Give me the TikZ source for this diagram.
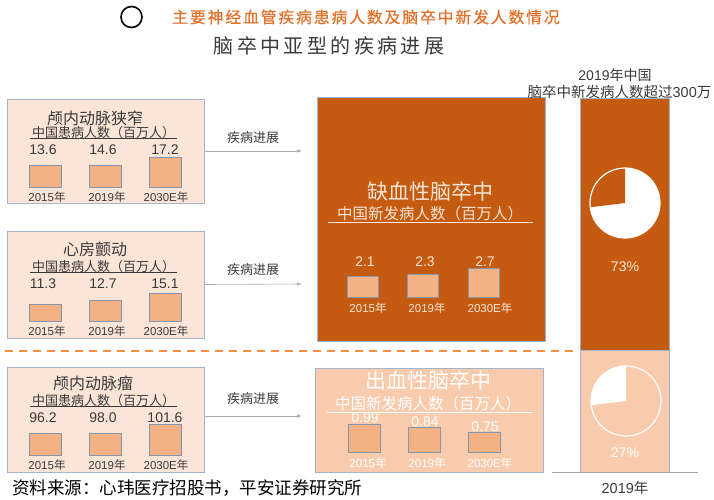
\documentclass[tikz,border=0pt]{standalone}
\usepackage{fontspec}
\setmainfont{Noto Sans CJK SC}
\newfontfamily\numfont{Liberation Sans}
\newfontfamily\headfont[FakeBold=0.6, LetterSpace=12]{Noto Sans CJK SC}
\usetikzlibrary{arrows.meta}
\definecolor{ischorange}{HTML}{C55A11}
\definecolor{hempeach}{HTML}{F8CBAD}
\definecolor{boxpeach}{HTML}{FBE5D6}
\definecolor{barfill}{HTML}{F4B183}
\definecolor{bargray}{HTML}{8497B0}
\definecolor{boxline}{HTML}{A3B4CF}
\definecolor{titleorange}{HTML}{E2712C}
\definecolor{dashorange}{HTML}{F4913F}
\definecolor{txtgray}{HTML}{3A3A3A}
\begin{document}
\begin{tikzpicture}[x=1pt, y=-1pt,
  every node/.style={text=txtgray, inner sep=0pt},
  dbox/.style={draw=boxline, fill=boxpeach, line width=0.7pt, minimum width=197pt},
  bar/.style={draw=bargray, fill=barfill, line width=0.7pt, minimum width=32pt, anchor=south},
  boxtitle/.style={font=\fontsize{16}{16}\selectfont},
  subtitle/.style={font=\fontsize{13}{13}\selectfont},
  val/.style={font=\numfont\fontsize{14}{14}\selectfont},
  yr/.style={font=\fontsize{11.5}{11.5}\selectfont},
  uline/.style={line width=0.6pt, txtgray},
  progress/.style={draw=gray!65, line width=0.6pt, -{Latex[length=5pt,width=3.5pt]}}]
\useasboundingbox (0,0) rectangle (714,499);
% heading
\node[draw=black, line width=1.6pt, circle, minimum size=21pt] (mark) at (131.5,17) {};
\node[text=titleorange, font=\headfont\fontsize{15.8}{15.8}\selectfont] (head) at (366,17) {主要神经血管疾病患病人数及脑卒中新发人数情况};
\node[font=\fontsize{20}{20}\selectfont\addfontfeature{LetterSpace=17}] (sub) at (329,46) {脑卒中亚型的疾病进展};
% left boxes
\node[dbox, minimum height=104pt] (lbox1) at (105.5,151) {};
\node[boxtitle] (lt1) at (95,118) {颅内动脉狭窄};
\node[subtitle] (ls1) at (103.5,133) {中国患病人数（百万人）};
\draw[uline] (30,138) -- (177,138);
\node[val] (lv11) at (43,150) {13.6};
\node[val] (lv12) at (103,150) {14.6};
\node[val] (lv13) at (165,150) {17.2};
\node[bar, minimum height=22pt] (lb11) at (45,188) {};
\node[bar, minimum height=22pt] (lb12) at (105,188) {};
\node[bar, minimum height=30pt] (lb13) at (165,188) {};
\node[yr] (ly11) at (47,197) {{\numfont 2015}年};
\node[yr] (ly12) at (107,197) {{\numfont 2019}年};
\node[yr] (ly13) at (166,197) {{\numfont 2030E}年};

\node[dbox, minimum height=107pt] (lbox2) at (105.5,284.5) {};
\node[boxtitle] (lt2) at (95,249) {心房颤动};
\node[subtitle] (ls2) at (103.5,267) {中国患病人数（百万人）};
\draw[uline] (30,272) -- (177,272);
\node[val] (lv21) at (43,284) {11.3};
\node[val] (lv22) at (103,284) {12.7};
\node[val] (lv23) at (165,284) {15.1};
\node[bar, minimum height=17pt] (lb21) at (45,322) {};
\node[bar, minimum height=21pt] (lb22) at (105,322) {};
\node[bar, minimum height=28pt] (lb23) at (165,322) {};
\node[yr] (ly21) at (47,331) {{\numfont 2015}年};
\node[yr] (ly22) at (107,331) {{\numfont 2019}年};
\node[yr] (ly23) at (166,331) {{\numfont 2030E}年};

\node[dbox, minimum height=105pt] (lbox3) at (105.5,419.5) {};
\node[boxtitle] (lt3) at (93,383) {颅内动脉瘤};
\node[subtitle] (ls3) at (103.5,401) {中国患病人数（百万人）};
\draw[uline] (30,406) -- (177,406);
\node[val] (lv31) at (43,418) {96.2};
\node[val] (lv32) at (103,418) {98.0};
\node[val] (lv33) at (165,418) {101.6};
\node[bar, minimum height=22pt] (lb31) at (45,456) {};
\node[bar, minimum height=22pt] (lb32) at (105,456) {};
\node[bar, minimum height=31pt] (lb33) at (165,456) {};
\node[yr] (ly31) at (47,465) {{\numfont 2015}年};
\node[yr] (ly32) at (107,465) {{\numfont 2019}年};
\node[yr] (ly33) at (166,465) {{\numfont 2030E}年};
% progression arrows
\coordinate (a1) at (302,151);
\coordinate (a2) at (302,284);
\coordinate (a3) at (302,416);
\draw[progress] (lbox1.east) -- (a1);
\draw[progress] (lbox2.east) -- (a2);
\draw[progress] (lbox3.east |- a3) -- (a3);
\node[subtitle] (p1) at (253,138) {疾病进展};
\node[subtitle] (p2) at (253,270) {疾病进展};
\node[subtitle] (p3) at (253,399) {疾病进展};
% ischaemic stroke
\node[draw=boxline, fill=ischorange, line width=0.7pt, minimum width=228pt, minimum height=244pt] (isch) at (431,219) {};
\node[text=boxpeach, font=\fontsize{21}{21}\selectfont] (it) at (430,192) {缺血性脑卒中};
\node[text=boxpeach, font=\fontsize{15.5}{15.5}\selectfont] (is) at (430,214) {中国新发病人数（百万人）};
\draw[uline, boxpeach] (328,222) -- (533,222);
\node[val, text=boxpeach] (iv1) at (365,262) {2.1};
\node[val, text=boxpeach] (iv2) at (425,262) {2.3};
\node[val, text=boxpeach] (iv3) at (485,262) {2.7};
\node[bar, minimum width=31pt, minimum height=21pt] (ib1) at (363,298) {};
\node[bar, minimum width=31pt, minimum height=23pt] (ib2) at (423,298) {};
\node[bar, minimum width=31pt, minimum height=29pt] (ib3) at (484,298) {};
\node[yr, text=boxpeach] (iy1) at (368,308) {{\numfont 2015}年};
\node[yr, text=boxpeach] (iy2) at (427,308) {{\numfont 2019}年};
\node[yr, text=boxpeach] (iy3) at (490,308) {{\numfont 2030E}年};
% divider
\draw[dashorange, line width=2.2pt, dash pattern=on 8pt off 6pt] (5,351) -- (577,351);
% haemorrhagic stroke
\node[draw=boxline, fill=hempeach, line width=0.7pt, minimum width=228pt, minimum height=104pt] (hem) at (429,420) {};
\node[text=white, font=\fontsize{21}{21}\selectfont] (ht) at (428,381) {出血性脑卒中};
\node[text=white, font=\fontsize{15.5}{15.5}\selectfont] (hs) at (428,404) {中国新发病人数（百万人）};
\draw[uline, white] (327,412) -- (532,412);
\node[val, text=white] (hv1) at (365,418) {0.99};
\node[val, text=white] (hv2) at (425,422) {0.84};
\node[val, text=white] (hv3) at (485,427) {0.75};
\node[bar, minimum height=28pt] (hb1) at (364,453) {};
\node[bar, minimum height=25pt] (hb2) at (424,453) {};
\node[bar, minimum height=20pt] (hb3) at (484,453) {};
\node[yr, text=white] (hy1) at (368,463) {{\numfont 2015}年};
\node[yr, text=white] (hy2) at (427,463) {{\numfont 2019}年};
\node[yr, text=white] (hy3) at (490,463) {{\numfont 2030E}年};
% 2019 column
\node[font=\fontsize{14}{14}\selectfont] (ct1) at (615,75) {{\numfont 2019}年中国};
\node[font=\fontsize{14.5}{14.5}\selectfont] (ct2) at (619.5,92) {脑卒中新发病人数超过{\numfont 300}万};
\node[draw=boxline, fill=ischorange, line width=0.7pt, minimum width=89pt, minimum height=252pt] (cisch) at (624.5,224) {};
\node[draw=boxline, fill=hempeach, line width=0.7pt, minimum width=89pt, minimum height=122pt] (chem) at (624.5,411) {};
\coordinate (pie1) at (625,203);
\coordinate (pie2) at (626,401);
\fill[white] (pie1) circle[radius=35];
\fill[ischorange] (pie1) -- ++(0,-35) arc[start angle=-90, end angle=-187, radius=35] -- cycle;
\draw[white, line width=1.2pt] (pie1) circle[radius=35];
\fill[white] (pie2) -- ++(0,-35) arc[start angle=-90, end angle=-187, radius=35] -- cycle;
\draw[white, line width=1.2pt] (pie2) circle[radius=35];
\node[text=boxpeach, font=\numfont\fontsize{14}{14}\selectfont] (pc1) at (625,267) {73\%};
\node[text=white, font=\numfont\fontsize{14}{14}\selectfont] (pc2) at (625,453) {27\%};
\draw[gray!70, line width=1pt] (552,472) -- (698,472);
\node[font=\fontsize{14.5}{14.5}\selectfont] (cyr) at (625,488) {{\numfont 2019}年};
% source
\node[anchor=west, text=black, font=\fontsize{17.5}{17.5}\selectfont] (src) at (12,488) {资料来源：心玮医疗招股书，平安证券研究所};
\end{tikzpicture}
\end{document}
